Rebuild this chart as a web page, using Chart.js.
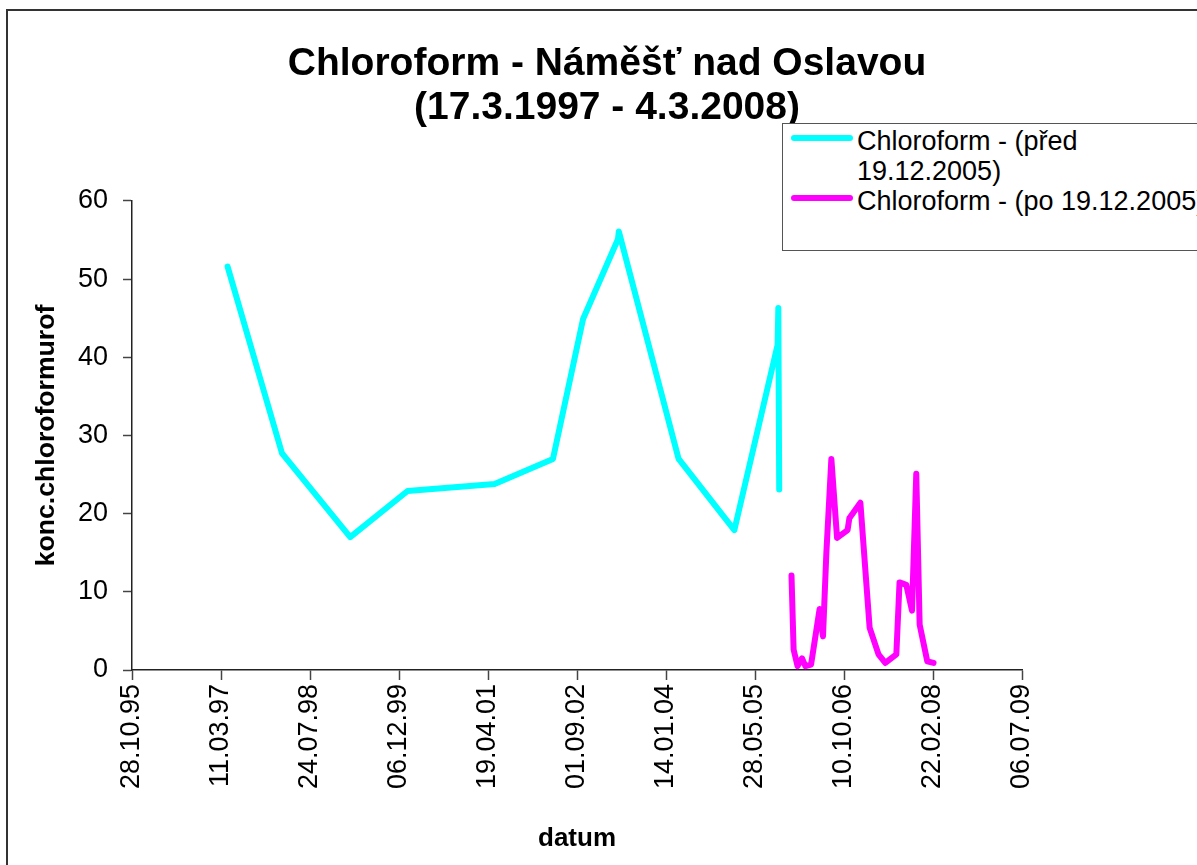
<!DOCTYPE html>
<html lang="cs">
<head>
<meta charset="utf-8">
<title>Chloroform - Náměšť nad Oslavou</title>
<script src="https://cdn.jsdelivr.net/npm/chart.js@4/dist/chart.umd.min.js"></script>
<style>
    html, body {
        margin: 0;
        padding: 0;
        background: #fff;
        overflow: hidden;
        width: 1197px;
        height: 865px;
    }
    #wrap {
        position: relative;
        width: 1197px;
        height: 865px;
    }
    #frame {
        position: absolute;
        left: 6px;
        top: 9px;
        width: 1300px;
        height: 1000px;
        border: 2px solid #333;
        pointer-events: none;
    }
    #chart {
        position: absolute;
        left: 0;
        top: 0;
    }
    #legend {
        position: absolute;
        left: 782px;
        top: 123px;
        width: 450px;
        height: 126px;
        border: 1px solid #555;
        background: #fff;
        font-family: "Liberation Sans", Arial, sans-serif;
        font-size: 27px;
        color: #000;
    }
    .swatch {
        position: absolute;
        left: 8px;
        width: 62px;
        height: 6px;
        border-radius: 3px;
    }
    .label {
        position: absolute;
        left: 74px;
        line-height: 30px;
        white-space: nowrap;
    }
</style>
</head>
<body>
<div id="wrap">
    <canvas id="chart" width="1197" height="865"></canvas>
    <div id="legend"></div>
    <div id="frame"></div>
</div>
<script>
// --- data -------------------------------------------------------------
const chartTitle = ['Chloroform - Náměšť nad Oslavou', '(17.3.1997 - 4.3.2008)'];
const xAxisTitle = 'datum';
const yAxisTitle = 'konc.chloroformurof';

const seriesNames = ['Chloroform - (před 19.12.2005)', 'Chloroform - (po 19.12.2005)'];
const seriesColors = ['#00ffff', '#ff00ff'];

// measurements before 19.12.2005
const beforeDates = [
    '1997-04-17', '1998-02-17', '1999-03-07', '2000-01-23', '2001-05-26',
    '2002-04-19', '2002-10-05', '2003-04-19', '2003-04-24', '2004-03-25',
    '2005-02-01', '2005-10-02', '2005-10-06', '2005-10-11'
];
const beforeValues = [
    51.6, 27.7, 17.0, 22.9, 23.8,
    27.0, 44.9, 55.1, 56.1, 27.0,
    17.9, 41.6, 46.3, 23.1
];

// measurements from 19.12.2005
const afterDates = [
    '2005-12-19', '2005-12-31', '2006-01-22', '2006-02-16', '2006-03-07',
    '2006-04-08', '2006-05-26', '2006-06-14', '2006-07-03', '2006-07-31',
    '2006-09-01', '2006-10-30', '2006-11-09', '2007-01-10', '2007-03-03',
    '2007-04-22', '2007-05-30', '2007-07-31', '2007-08-18', '2007-09-25',
    '2007-10-27', '2007-11-20', '2007-12-09', '2008-01-21', '2008-02-25'
];
const afterValues = [
    12.1, 2.6, 0.5, 1.5, 0.5,
    0.7, 7.8, 4.3, 15.0, 27.0,
    16.9, 17.9, 19.4, 21.4, 5.4,
    2.0, 0.9, 2.0, 11.2, 10.9,
    7.6, 25.1, 5.8, 1.1, 0.9
];

// axis range: first/last tick date and step in days
const xFirstTick = '1995-10-28';
const xLastTick = '2009-07-06';
const xStepDays = 500;
const yMin = 0;
const yMax = 60;
const yStep = 10;

// --- helpers ----------------------------------------------------------
const DAY_MS = 86400000;
const EPOCH = Date.UTC(1899, 11, 30);

// date string -> day serial (spreadsheet style)
function toSerial(iso) {
    const [y, m, d] = iso.split('-').map(Number);
    return Math.round((Date.UTC(y, m - 1, d) - EPOCH) / DAY_MS);
}

// day serial -> dd.mm.yy
function serialLabel(v) {
    const dt = new Date(EPOCH + v * DAY_MS);
    const dd = String(dt.getUTCDate()).padStart(2, '0');
    const mm = String(dt.getUTCMonth() + 1).padStart(2, '0');
    const yy = String(dt.getUTCFullYear() % 100).padStart(2, '0');
    return dd + '.' + mm + '.' + yy;
}

function toPoints(dates, values) {
    return dates.map((d, i) => ({ x: toSerial(d), y: values[i] }));
}

const FONT = '"Liberation Sans", Arial, sans-serif';

// --- legend (first entry wraps onto two lines) --------------------------
function buildLegend() {
    const box = document.getElementById('legend');
    const rows = [
        { top: 2, swatchTop: 11, lines: ['Chloroform - (před', '19.12.2005)'] },
        { top: 62, swatchTop: 71, lines: [seriesNames[1]] }
    ];
    rows.forEach((row, i) => {
        const sw = document.createElement('div');
        sw.className = 'swatch';
        sw.style.top = row.swatchTop + 'px';
        sw.style.background = seriesColors[i];
        box.appendChild(sw);

        const lbl = document.createElement('div');
        lbl.className = 'label';
        lbl.style.top = row.top + 'px';
        lbl.innerHTML = row.lines.join('<br>');
        box.appendChild(lbl);
    });
}

// --- chart ------------------------------------------------------------
function buildChart() {
    const ctx = document.getElementById('chart');

    const lineStyle = {
        borderWidth: 6,
        pointRadius: 0,
        pointHoverRadius: 0,
        tension: 0,
        fill: false,
        borderCapStyle: 'round',
        borderJoinStyle: 'round'
    };

    new Chart(ctx, {
        type: 'line',
        data: {
            datasets: [
                {
                    label: seriesNames[0],
                    data: toPoints(beforeDates, beforeValues),
                    borderColor: seriesColors[0],
                    backgroundColor: seriesColors[0],
                    ...lineStyle
                },
                {
                    label: seriesNames[1],
                    data: toPoints(afterDates, afterValues),
                    borderColor: seriesColors[1],
                    backgroundColor: seriesColors[1],
                    ...lineStyle
                }
            ]
        },
        options: {
            responsive: false,
            animation: false,
            events: [],
            layout: {
                padding: { left: 17, right: 0, top: 0, bottom: 0 }
            },
            plugins: {
                legend: { display: false },
                tooltip: { enabled: false },
                title: {
                    display: true,
                    text: chartTitle,
                    color: '#000',
                    font: { family: FONT, size: 39, weight: 'bold', lineHeight: 1.128 },
                    padding: { top: 42, bottom: 71 }
                }
            },
            scales: {
                x: {
                    type: 'linear',
                    min: toSerial(xFirstTick),
                    max: toSerial(xLastTick),
                    afterFit: (scale) => { scale.height = 195; },
                    border: { display: true, color: '#222', width: 1.5 },
                    grid: {
                        drawOnChartArea: false,
                        drawTicks: true,
                        tickLength: 10,
                        tickColor: '#444',
                        tickWidth: 1.5
                    },
                    ticks: {
                        stepSize: xStepDays,
                        autoSkip: false,
                        maxRotation: 90,
                        minRotation: 90,
                        padding: 4,
                        color: '#000',
                        font: { family: FONT, size: 27 },
                        callback: (v) => serialLabel(v)
                    },
                    title: {
                        display: true,
                        text: xAxisTitle,
                        color: '#000',
                        font: { family: FONT, size: 26, weight: 'bold', lineHeight: 1.2 },
                        padding: { top: 0, bottom: 11 }
                    }
                },
                y: {
                    min: yMin,
                    max: yMax,
                    afterFit: (scale) => { scale.width = 115; },
                    border: { display: true, color: '#222', width: 1.5 },
                    grid: {
                        drawOnChartArea: false,
                        drawTicks: true,
                        tickLength: 9,
                        tickColor: '#444',
                        tickWidth: 1.5
                    },
                    ticks: {
                        stepSize: yStep,
                        padding: 15,
                        color: '#000',
                        font: { family: FONT, size: 27 }
                    },
                    title: {
                        display: true,
                        text: yAxisTitle,
                        color: '#000',
                        font: { family: FONT, size: 26.6, weight: 'bold', lineHeight: 1.2 },
                        padding: { top: 14, bottom: 0 }
                    }
                },
                // empty axis on the right, keeps room for the legend box
                side: {
                    type: 'linear',
                    position: 'right',
                    display: true,
                    afterFit: (scale) => { scale.width = 175; },
                    border: { display: false },
                    grid: { display: false, drawTicks: false },
                    ticks: { display: false }
                }
            }
        }
    });
}

document.addEventListener('DOMContentLoaded', () => {
    buildLegend();
    buildChart();
});
</script>
</body>
</html>
